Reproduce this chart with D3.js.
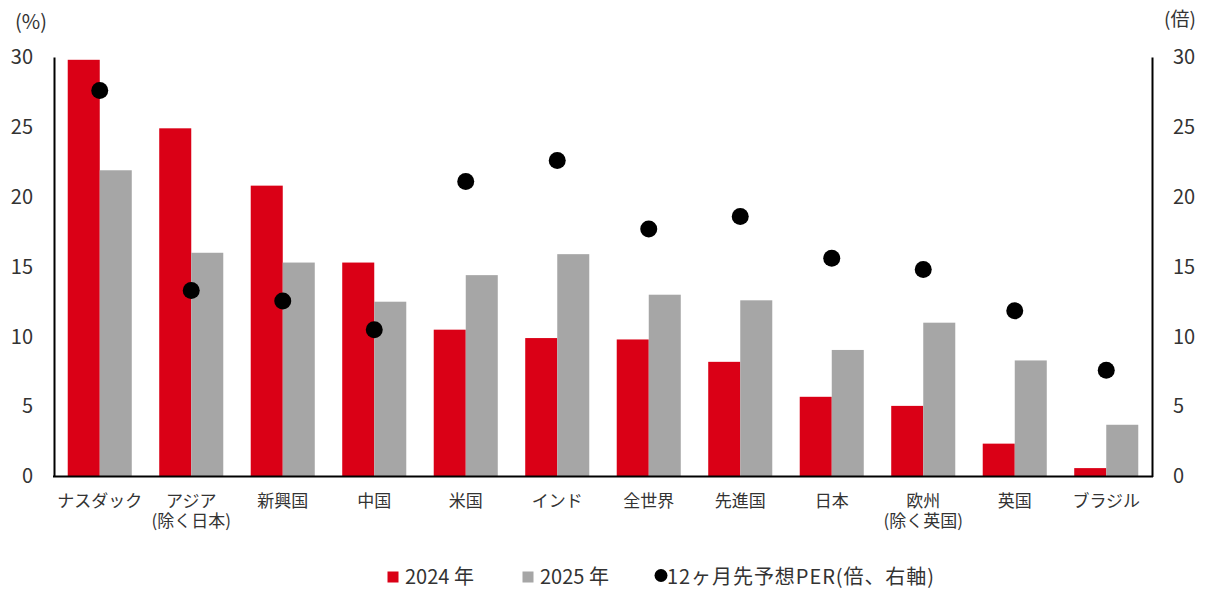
<!DOCTYPE html>
<html>
<head>
<meta charset="utf-8">
<script src="https://cdn.jsdelivr.net/npm/d3@7"></script>
<style>
  html, body { margin: 0; padding: 0; background: #fff; }
  svg text { font-family: "Noto Sans CJK JP", "Noto Sans", sans-serif; fill: #333; }
</style>
</head>
<body>
<svg id="chart" width="1207" height="595"></svg>
<script>
const categories = ["ナスダック", "アジア\n(除く日本)", "新興国", "中国", "米国", "インド", "全世界", "先進国", "日本", "欧州\n(除く英国)", "英国", "ブラジル"];
const growth2024 = [29.8, 24.9, 20.8, 15.3, 10.5, 9.9, 9.8, 8.2, 5.7, 5.05, 2.35, 0.6];
const growth2025 = [21.9, 16.0, 15.3, 12.5, 14.4, 15.9, 13.0, 12.6, 9.05, 11.0, 8.3, 3.7];
const perForward = [27.6, 13.3, 12.55, 10.5, 21.1, 22.6, 17.7, 18.6, 15.6, 14.8, 11.85, 7.6];
const yTicks = [0, 5, 10, 15, 20, 25, 30];
const seriesNames = ["2024 年", "2025 年", "12ヶ月先予想PER(倍、右軸)"];
const leftUnit = "(%)";
const rightUnit = "(倍)";

(function () {
const colors = { y2024: "#DA0016", y2025: "#A6A6A6", per: "#000000" };
const pLeft = 54, pRight = 1152, pTop = 57, pBottom = 476.5;

const svg = d3.select("#chart");

const x0 = d3.scaleBand().domain(categories).range([pLeft, pRight]).paddingInner(0.3).paddingOuter(0.15);
const x1 = d3.scaleBand().domain(["y2024", "y2025"]).range([0, x0.bandwidth()]).padding(0);
const yL = d3.scaleLinear().domain([0, 30]).range([pBottom, pTop]);
const yR = d3.scaleLinear().domain([0, 30]).range([pBottom, pTop]);

const rows = categories.map((c, i) => ({ c, y2024: growth2024[i], y2025: growth2025[i], per: perForward[i] }));

// bars
const g = svg.append("g");
rows.forEach(r => {
  ["y2024", "y2025"].forEach(k => {
    g.append("rect")
      .attr("x", x0(r.c) + x1(k))
      .attr("y", yL(r[k]))
      .attr("width", x1.bandwidth())
      .attr("height", yL(0) - yL(r[k]))
      .attr("fill", colors[k]);
  });
});

// axes
const axL = svg.append("g").attr("transform", `translate(${pLeft},0)`)
  .call(d3.axisLeft(yL).tickValues(yTicks).tickSize(0).tickSizeOuter(0).tickPadding(21));
const axR = svg.append("g").attr("transform", `translate(${pRight},0)`)
  .call(d3.axisRight(yR).tickValues(yTicks).tickSize(0).tickSizeOuter(0).tickPadding(21));
[axL, axR].forEach(a => {
  a.select(".domain").attr("stroke", "#000").attr("stroke-width", 2);
  a.selectAll("text").style("font-size", "20px").style("font-family", "'Noto Sans CJK JP'").attr("fill", "#333");
});

svg.append("line").attr("x1", pLeft - 1).attr("x2", pRight + 1).attr("y1", pBottom).attr("y2", pBottom)
  .attr("stroke", "#000").attr("stroke-width", 2);

// dots
rows.forEach(r => {
  svg.append("circle")
    .attr("cx", x0(r.c) + x0.bandwidth() / 2)
    .attr("cy", yR(r.per))
    .attr("r", 8.5)
    .attr("fill", colors.per);
});

// category labels (one text element per line)
rows.forEach(r => {
  const cx = x0(r.c) + x0.bandwidth() / 2;
  r.c.split("\n").forEach((line, i) => {
    svg.append("text")
      .attr("x", cx)
      .attr("y", 507 + i * 20)
      .attr("text-anchor", "middle")
      .style("font-size", "17px")
      .text(line);
  });
});

// unit labels
svg.append("text").attr("x", 31).attr("y", 29).attr("text-anchor", "middle").style("font-size", "20px").text(leftUnit);
svg.append("text").attr("x", 1180).attr("y", 26).attr("text-anchor", "middle").style("font-size", "19px").text(rightUnit);

// legend
const lg = svg.append("g");
lg.append("rect").attr("x", 387.5).attr("y", 571.5).attr("width", 11).attr("height", 11).attr("fill", colors.y2024);
lg.append("text").attr("x", 405).attr("y", 584).style("font-size", "20px").text(seriesNames[0]);
lg.append("rect").attr("x", 522.5).attr("y", 571.5).attr("width", 11).attr("height", 11).attr("fill", colors.y2025);
lg.append("text").attr("x", 540).attr("y", 584).style("font-size", "20px").text(seriesNames[1]);
lg.append("circle").attr("cx", 661).attr("cy", 575.5).attr("r", 6.5).attr("fill", colors.per);
lg.append("text").attr("x", 667).attr("y", 584).style("font-size", "20px").attr("textLength", 267).attr("lengthAdjust", "spacing").text(seriesNames[2]);
})();
</script>
</body>
</html>
